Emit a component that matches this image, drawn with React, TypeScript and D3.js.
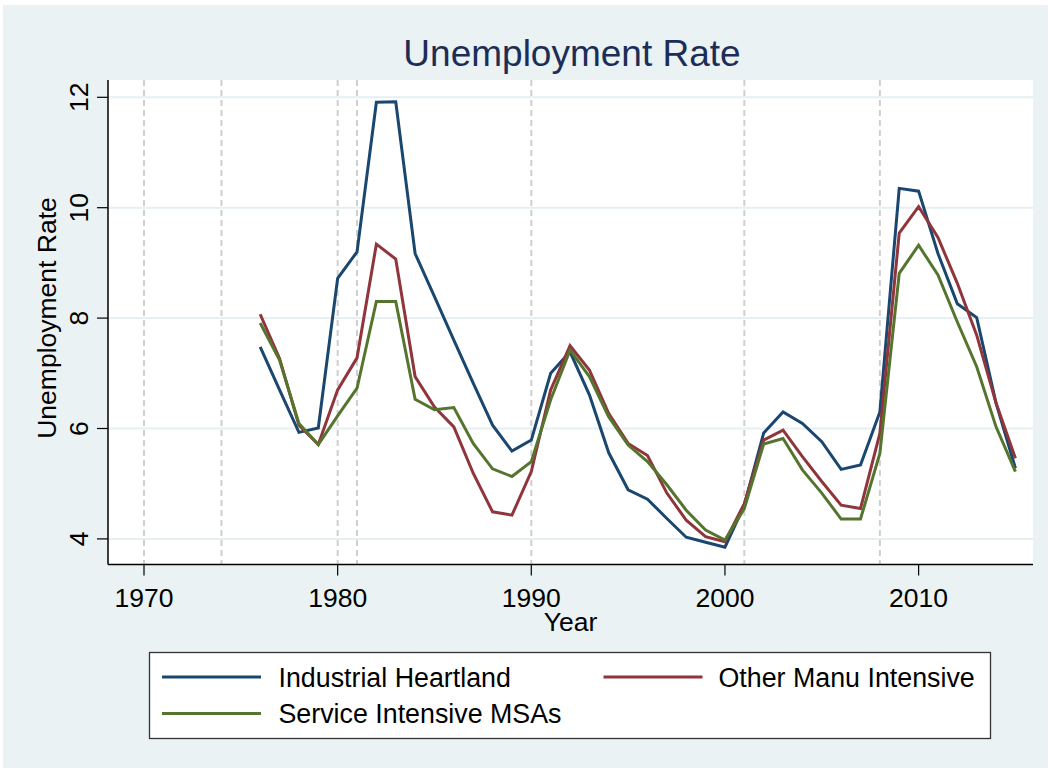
import React, { useEffect, useRef } from "react";
import * as d3 from "d3";

// Annual unemployment rate (%) by metro group, 1976-2015
const years: number[] = d3.range(1976, 2016);

const industrialHeartland: number[] = [
  7.48, 6.7, 5.93, 6.01, 8.72, 9.2, 11.91, 11.92, 9.17, 8.39,
  7.6, 6.82, 6.06, 5.59, 5.79, 7.0, 7.39, 6.61, 5.56, 4.89,
  4.72, 4.37, 4.03, 3.94, 3.85, 4.61, 5.92, 6.3, 6.09, 5.76,
  5.26, 5.34, 6.3, 10.35, 10.3, 9.17, 8.26, 8.01, 6.46, 5.28,
];

const otherManuIntensive: number[] = [
  8.07, 7.27, 6.06, 5.71, 6.7, 7.28, 9.34, 9.07, 6.94, 6.39,
  6.03, 5.19, 4.49, 4.43, 5.22, 6.7, 7.5, 7.06, 6.27, 5.73,
  5.51, 4.83, 4.34, 4.04, 3.95, 4.64, 5.79, 5.97, 5.49, 5.04,
  4.61, 4.55, 5.91, 9.54, 10.02, 9.46, 8.63, 7.69, 6.46, 5.46,
];

const serviceIntensive: number[] = [
  7.91, 7.24, 6.09, 5.71, 6.23, 6.73, 8.3, 8.3, 6.53, 6.34,
  6.38, 5.73, 5.27, 5.13, 5.4, 6.52, 7.42, 6.94, 6.21, 5.7,
  5.4, 4.98, 4.52, 4.16, 3.98, 4.55, 5.72, 5.82, 5.25, 4.83,
  4.36, 4.36, 5.55, 8.81, 9.32, 8.78, 7.93, 7.12, 6.03, 5.22,
];

// Recession start years marked with dashed reference lines
const recessionYears: number[] = [1970, 1974, 1980, 1981, 1990, 2001, 2008];

const xTicks: number[] = [1970, 1980, 1990, 2000, 2010];
const yTicks: number[] = [4, 6, 8, 10, 12];

const seriesNames: string[] = [
  "Industrial Heartland",
  "Other Manu Intensive",
  "Service Intensive MSAs",
];
const seriesColors: string[] = ["#1a476f", "#90353b", "#55752f"];
const seriesValues: number[][] = [industrialHeartland, otherManuIntensive, serviceIntensive];

const W = 1051;
const H = 772;
const FONT = "'Liberation Sans', Arial, Helvetica, sans-serif";

export default function App() {
  const ref = useRef<SVGSVGElement | null>(null);

  useEffect(() => {
    const svg = d3.select(ref.current);
    svg.selectAll("*").remove();

    const plotLeft = 108;
    const plotRight = 1033;
    const plotTop = 80;
    const plotBottom = 564.5;

    const x = d3.scaleLinear().domain([1970, 2010]).range([144, 918.6]);
    const y = d3.scaleLinear().domain([4, 12]).range([538.9, 97.3]);

    // outer background
    svg.append("rect").attr("x", 0).attr("y", 0).attr("width", W).attr("height", H).attr("fill", "#ffffff");
    svg.append("rect").attr("x", 3).attr("y", 5).attr("width", W - 6).attr("height", H - 9).attr("fill", "#eaf2f3");

    // plot region
    svg.append("rect")
      .attr("x", plotLeft).attr("y", plotTop)
      .attr("width", plotRight - plotLeft).attr("height", plotBottom - plotTop)
      .attr("fill", "#ffffff");

    // horizontal grid
    svg.append("g").selectAll("line").data(yTicks).join("line")
      .attr("x1", plotLeft).attr("x2", plotRight)
      .attr("y1", (d) => y(d)).attr("y2", (d) => y(d))
      .attr("stroke", "#e6eff1").attr("stroke-width", 2);

    // recession reference lines
    svg.append("g").selectAll("line").data(recessionYears).join("line")
      .attr("x1", (d) => x(d)).attr("x2", (d) => x(d))
      .attr("y1", plotTop).attr("y2", plotBottom)
      .attr("stroke", "#cfcfcf").attr("stroke-width", 2)
      .attr("stroke-dasharray", "6,4");

    // series lines
    const line = d3.line<number>()
      .x((_, i) => x(years[i]))
      .y((d) => y(d));
    seriesValues.forEach((vals, k) => {
      svg.append("path")
        .datum(vals)
        .attr("d", line)
        .attr("fill", "none")
        .attr("stroke", seriesColors[k])
        .attr("stroke-width", 3)
        .attr("stroke-linejoin", "miter");
    });

    // axes lines
    svg.append("line")
      .attr("x1", plotLeft).attr("x2", plotLeft)
      .attr("y1", plotTop).attr("y2", plotBottom)
      .attr("stroke", "#000").attr("stroke-width", 1.5);
    svg.append("line")
      .attr("x1", plotLeft).attr("x2", plotRight)
      .attr("y1", plotBottom).attr("y2", plotBottom)
      .attr("stroke", "#000").attr("stroke-width", 1.5);

    // y ticks and labels (rotated)
    const yg = svg.append("g");
    yg.selectAll("line").data(yTicks).join("line")
      .attr("x1", plotLeft - 11).attr("x2", plotLeft)
      .attr("y1", (d) => y(d)).attr("y2", (d) => y(d))
      .attr("stroke", "#000").attr("stroke-width", 1.2);
    yg.selectAll("text").data(yTicks).join("text")
      .attr("transform", (d) => `translate(88,${y(d)}) rotate(-90)`)
      .attr("text-anchor", "middle")
      .attr("font-family", FONT)
      .attr("font-size", 26.5)
      .attr("fill", "#000")
      .text((d) => String(d));

    // x ticks and labels
    const xg = svg.append("g");
    xg.selectAll("line").data(xTicks).join("line")
      .attr("x1", (d) => x(d)).attr("x2", (d) => x(d))
      .attr("y1", plotBottom).attr("y2", plotBottom + 11)
      .attr("stroke", "#000").attr("stroke-width", 1.2);
    xg.selectAll("text").data(xTicks).join("text")
      .attr("x", (d) => x(d)).attr("y", 606.5)
      .attr("text-anchor", "middle")
      .attr("font-family", FONT)
      .attr("font-size", 26.5)
      .attr("fill", "#000")
      .text((d) => String(d));

    // axis titles
    svg.append("text")
      .attr("x", 570.5).attr("y", 630.5)
      .attr("text-anchor", "middle")
      .attr("font-family", FONT).attr("font-size", 26.5).attr("fill", "#000")
      .text("Year");
    svg.append("text")
      .attr("transform", `translate(56,318) rotate(-90)`)
      .attr("text-anchor", "middle")
      .attr("font-family", FONT).attr("font-size", 26.5).attr("fill", "#000")
      .text("Unemployment Rate");

    // title
    svg.append("text")
      .attr("x", 572).attr("y", 66)
      .attr("text-anchor", "middle")
      .attr("font-family", FONT).attr("font-size", 37).attr("fill", "#1c2d57")
      .text("Unemployment Rate");

    // legend
    const lg = svg.append("g");
    lg.append("rect")
      .attr("x", 149.5).attr("y", 652.5)
      .attr("width", 841).attr("height", 86)
      .attr("fill", "#ffffff").attr("stroke", "#333").attr("stroke-width", 1.3);
    const legendPos = [
      { lx: 162, tx: 278.5, ty: 677 },
      { lx: 603.5, tx: 718.5, ty: 677 },
      { lx: 162, tx: 278.5, ty: 713.5 },
    ];
    seriesNames.forEach((name, k) => {
      const p = legendPos[k];
      lg.append("line")
        .attr("x1", p.lx).attr("x2", p.lx + 99)
        .attr("y1", p.ty).attr("y2", p.ty)
        .attr("stroke", seriesColors[k]).attr("stroke-width", 3);
      lg.append("text")
        .attr("x", p.tx).attr("y", p.ty + 9.5)
        .attr("font-family", FONT).attr("font-size", 26.8).attr("fill", "#000")
        .text(name);
    });
  }, []);

  return (
    <svg
      ref={ref}
      width={W}
      height={H}
      style={{ position: "absolute", left: 0, top: 0, display: "block" }}
    />
  );
}
